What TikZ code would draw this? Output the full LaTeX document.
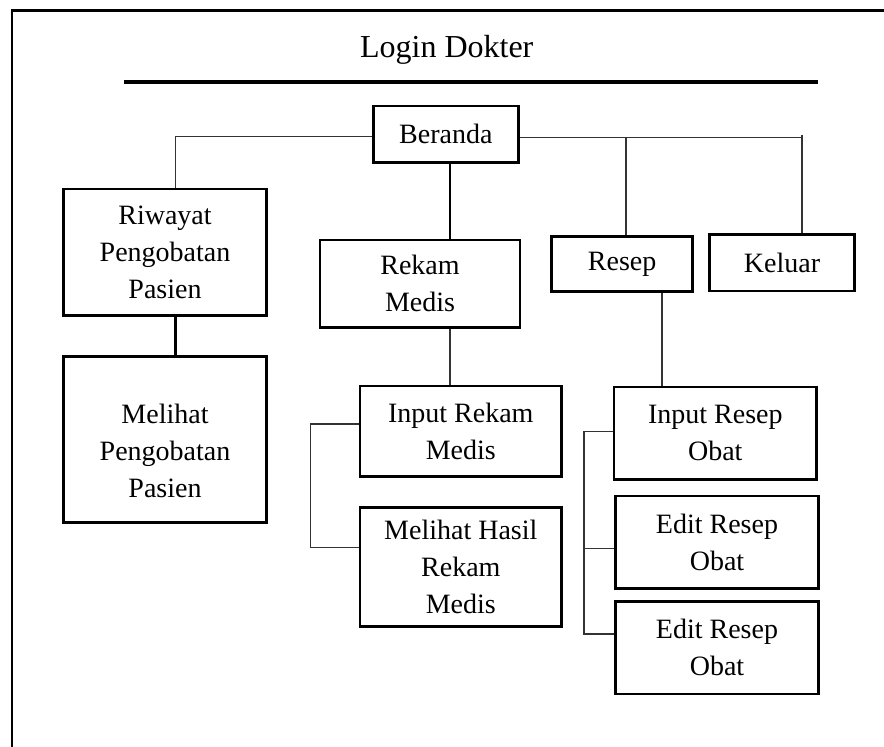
\documentclass[tikz,border=0pt]{standalone}
\usepackage{fontspec}
\setmainfont{Liberation Serif}
\usetikzlibrary{calc}

\begin{document}
\begin{tikzpicture}[x=0.5pt,y=-0.5pt,
        font=\fontsize{14}{18.5}\selectfont,
        menubox/.style={draw, line width=1.35pt, align=center, inner sep=0pt},
        thinline/.style={line width=0.65pt, black!80},
        thickline/.style={line width=1.3pt}]
            \useasboundingbox (0,0) rectangle (884,747);

            % Define the sizes of the boxes
            \def\bw{101.7pt}  % width of the wide boxes
            \def\bh{46.2pt}   % height of the two line boxes

            % Draw the page frame and the title
            \draw[line width=1.2pt] (12.2,747) -- (12.2,10.5) -- (884,10.5);
            \node[font=\fontsize{16}{19}\selectfont, anchor=base] (title) at (446.7,57.3) {Login Dokter};
            \draw[line width=2pt] (124,82) -- (817.6,82);

            % Draw the menu boxes
            \node[menubox, minimum width=72.5pt, minimum height=28.3pt] (beranda) at (445.8,134.3) {Beranda};
            \node[menubox, minimum width=\bw, minimum height=63.3pt] (riwayat) at (165,252.3) {Riwayat\\Pengobatan\\Pasien};
            \node[menubox, minimum width=100pt, minimum height=43.7pt] (rekam) at (420,283.7) {Rekam\\Medis};
            \node[menubox, minimum width=70.5pt, minimum height=27.5pt] (resep) at (622.2,264.2) {Resep};
            \node[menubox, minimum width=72.7pt, minimum height=28.3pt] (keluar) at (782,262.7) {Keluar};

            % Draw the sub menu boxes
            \node[menubox, minimum width=\bw, minimum height=82.8pt] (melihat) at (165,439.5) {};
            \node[align=center, inner sep=0pt] (melihattxt) at (165,451) {Melihat\\Pengobatan\\Pasien};
            \node[menubox, minimum width=100.8pt, minimum height=45.3pt] (inrekam) at (460.8,431.3) {Input Rekam\\Medis};
            \node[menubox, minimum width=100.8pt, minimum height=59.5pt] (hasil) at (460.8,567.2) {Melihat Hasil\\Rekam\\Medis};
            \node[menubox, minimum width=101.3pt, minimum height=\bh] (inresep) at (715.3,433.3) {Input Resep\\Obat};
            \node[menubox, minimum width=\bw, minimum height=\bh] (edit1) at (717,542.2) {Edit Resep\\Obat};
            \node[menubox, minimum width=\bw, minimum height=\bh] (edit2) at (717,647.8) {Edit Resep\\Obat};

            % Calculate the joints of the lines
            \coordinate (jr) at (175.7,136.7);
            \coordinate (jm) at (450,200);
            \coordinate (js) at (626,137.7);
            \coordinate (jk) at (802,137.7);
            \coordinate (jo) at (662,340);
            \coordinate (b1) at (310.7,424);
            \coordinate (b2) at (310.7,547.3);
            \coordinate (c1) at (584,431.7);
            \coordinate (c2) at (584,548.3);
            \coordinate (c3) at (584,634);

            % Draw lines from Beranda
            \draw[thinline] (beranda.west |- jr) -- (jr) -- (jr |- riwayat.north);
            \draw[thinline] (beranda.east |- jk) -- (jk);
            \draw[thinline] (js) -- (js |- resep.north);
            \draw[thinline] ($(jk)+(0,-3)$) -- (jk |- keluar.north);
            \draw[thickline] (beranda.south -| jm) -- (rekam.north -| jm);

            % Draw lines to the sub menus
            \draw[thickline] (riwayat.south -| jr) -- (melihat.north -| jr);
            \draw[thinline] (rekam.south -| jm) -- (inrekam.north -| jm);
            \draw[thinline] (resep.south -| jo) -- (inresep.north -| jo);
            \draw[thinline] (inrekam.west |- b1) -- (b1) -- (b2) -- (hasil.west |- b2);
            \draw[thinline] (inresep.west |- c1) -- (c1) -- (c3) -- (edit2.west |- c3);
            \draw[thinline] (c2) -- (edit1.west |- c2);
        \end{tikzpicture}
\end{document}
